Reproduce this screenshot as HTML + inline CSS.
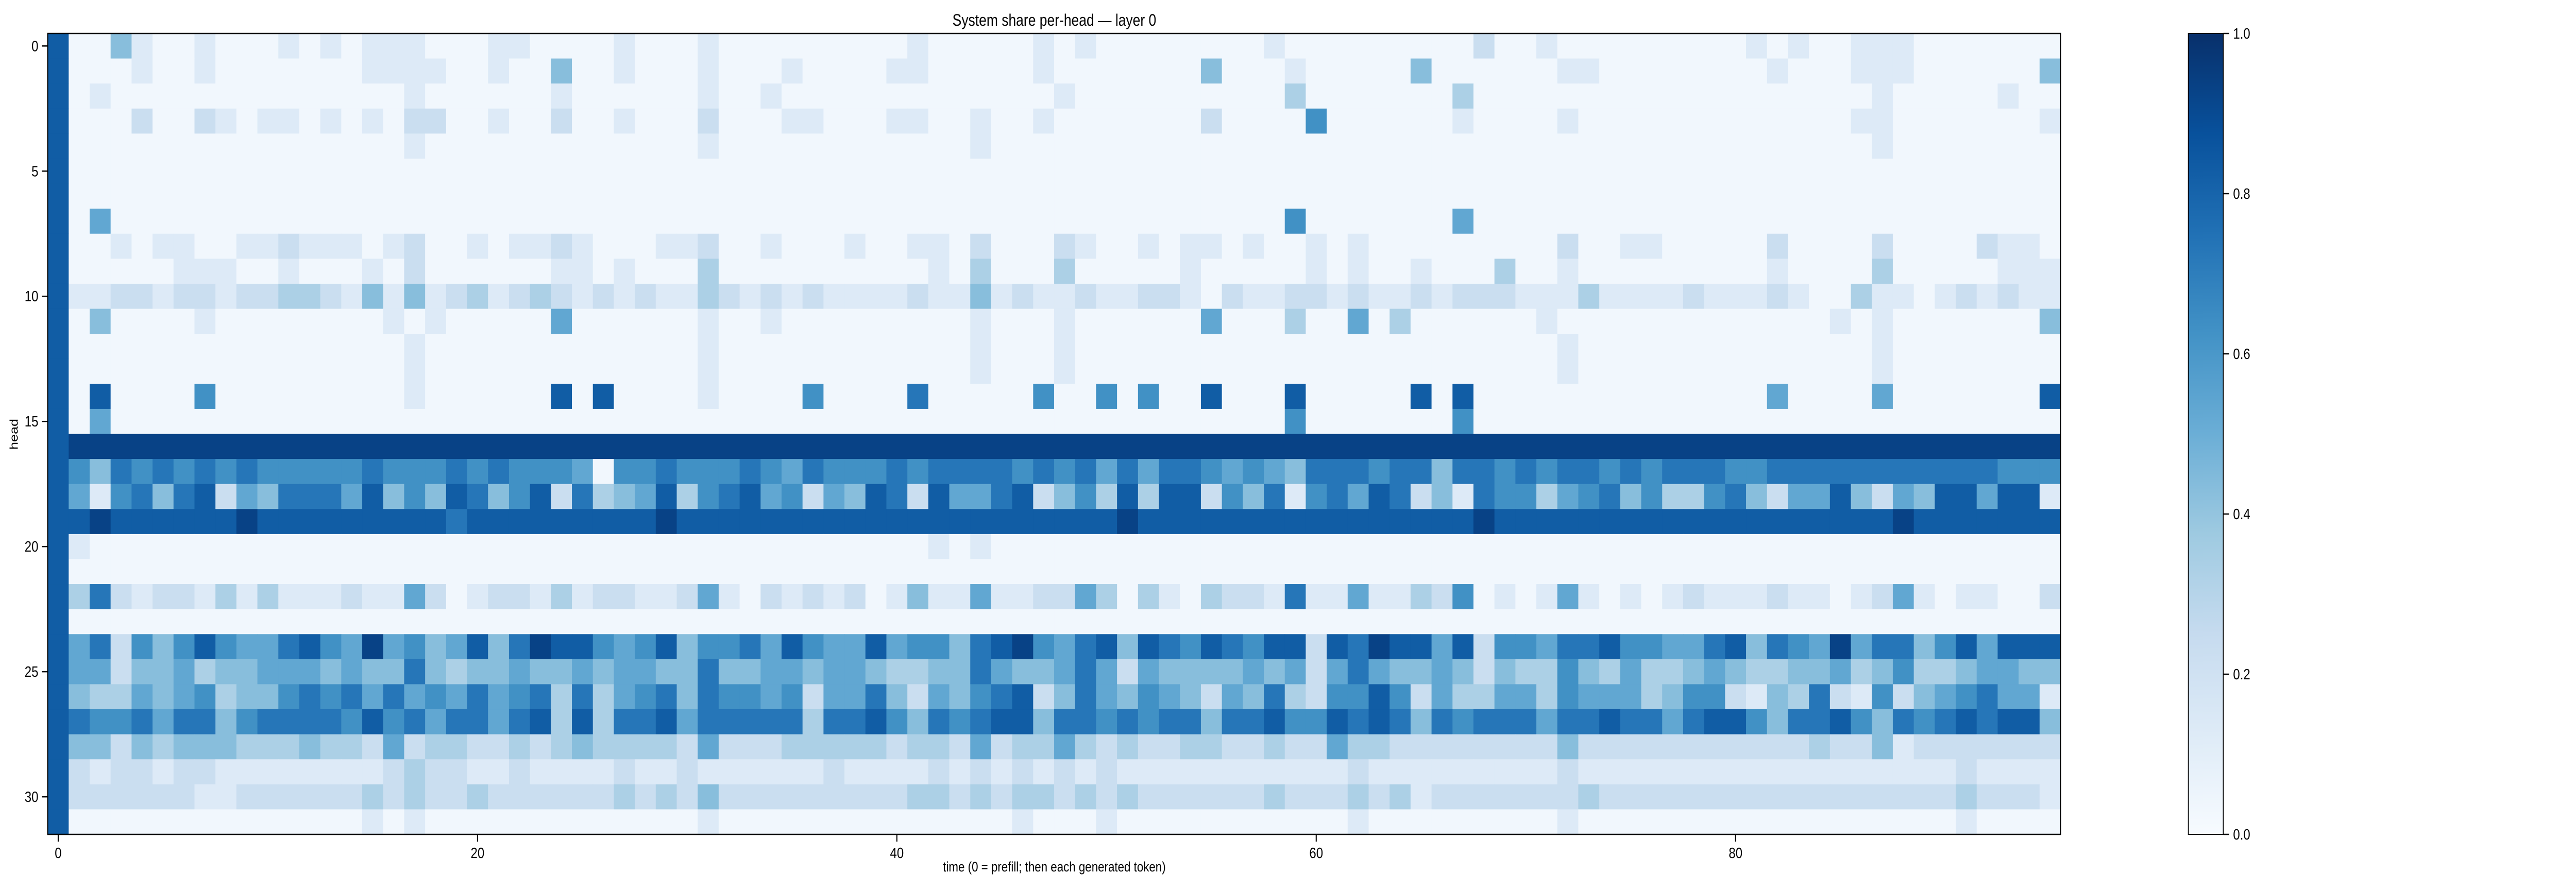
<!DOCTYPE html>
<html><head><meta charset="utf-8">
<style>
html,body{margin:0;padding:0;background:#fff;width:100vw;height:100vh;overflow:hidden;}
svg{display:block;position:absolute;left:0;top:0;width:100vw;height:100vh;font-family:"Liberation Sans","DejaVu Sans",sans-serif;}
</style></head>
<body>
<svg id="chart" viewBox="0 0 6047 1728" preserveAspectRatio="none" xmlns="http://www.w3.org/2000/svg">
<rect x="0" y="0" width="6047" height="1728" fill="#fff"/>
<text x="2475" y="50" font-size="32" text-anchor="middle" fill="#000">System share per-head — layer 0</text>
<g id="cells"></g>
<g id="axes"></g>
<text x="2475" y="1692" font-size="27" text-anchor="middle" fill="#000">time (0 = prefill; then each generated token)</text>
<text x="0" y="0" font-size="27" text-anchor="middle" fill="#000" transform="translate(42,843) rotate(-90)">head</text>
<defs>
<linearGradient id="blues" x1="0" y1="1" x2="0" y2="0">
<stop offset="0" stop-color="#f7fbff"/><stop offset="0.125" stop-color="#deebf7"/><stop offset="0.25" stop-color="#c6dbef"/><stop offset="0.375" stop-color="#9ecae1"/><stop offset="0.5" stop-color="#6baed6"/><stop offset="0.625" stop-color="#4292c6"/><stop offset="0.75" stop-color="#2171b5"/><stop offset="0.875" stop-color="#08519c"/><stop offset="1" stop-color="#08306b"/>
</linearGradient>
</defs>
<rect x="5137" y="65" width="82" height="1555" fill="url(#blues)" stroke="#000" stroke-width="2"/>
<g id="cbar"></g>
</svg>
<script>
// heat values per head row (digit d => (d+0.3)/10), columns = time steps 0..95
const heads = [
"8004100100"+"0101011100"+"0110000100"+"0100000000"+"0100000101"+"0000000010"+"0000000020"+"0100000000"+"0101001110"+"000000",
"8000100100"+"0000011110"+"0100400100"+"0100010000"+"1100000100"+"0000040001"+"0000040000"+"0011000000"+"0010001110"+"000004",
"8010000000"+"0000000100"+"0000100000"+"0100100000"+"0000000010"+"0000000003"+"0000000300"+"0000000000"+"0000000100"+"000100",
"8000200210"+"1101010220"+"0100200100"+"0200011000"+"1100100100"+"0000020000"+"6000000100"+"0010000000"+"0000001100"+"000001",
"8000000000"+"0000000100"+"0000000000"+"0100000000"+"0000100000"+"0000000000"+"0000000000"+"0000000000"+"0000000100"+"000000",
"8000000000"+"0000000000"+"0000000000"+"0000000000"+"0000000000"+"0000000000"+"0000000000"+"0000000000"+"0000000000"+"000000",
"8000000000"+"0000000000"+"0000000000"+"0000000000"+"0000000000"+"0000000000"+"0000000000"+"0000000000"+"0000000000"+"000000",
"8050000000"+"0000000000"+"0000000000"+"0000000000"+"0000000000"+"0000000006"+"0000000500"+"0000000000"+"0000000000"+"000000",
"8001011001"+"1211101200"+"1011210001"+"1200100010"+"0110200021"+"0010110100"+"1010000000"+"0020011000"+"0020000200"+"002110",
"8000001110"+"0100010200"+"0000110100"+"0300000000"+"0010300030"+"0000100000"+"1010010003"+"0010000000"+"0010000300"+"000111",
"8112212212"+"2332141412"+"3123212121"+"1321212111"+"1211412112"+"1122102112"+"2121121222"+"1113111121"+"1121003110"+"121211",
"8040000100"+"0000001010"+"0000500000"+"0100100000"+"0000100010"+"0000050003"+"0050300000"+"0100000000"+"0000010100"+"000004",
"8000000000"+"0000000100"+"0000000000"+"0100000000"+"0000100010"+"0000000000"+"0000000000"+"0010000000"+"0000000100"+"000000",
"8000000000"+"0000000100"+"0000000000"+"0100000000"+"0000100010"+"0000000000"+"0000000000"+"0010000000"+"0000000100"+"000000",
"8080000600"+"0000000100"+"0000808000"+"0100006000"+"0700000600"+"6060080008"+"0000080800"+"0000000000"+"0050000500"+"000008",
"8050000000"+"0000000000"+"0000000000"+"0000000000"+"0000000000"+"0000000006"+"0000000600"+"0000000000"+"0000000000"+"000000",
"8999999999"+"9999999999"+"9999999999"+"9999999999"+"9999999999"+"9999999999"+"9999999999"+"9999999999"+"9999999999"+"999999",
"8647676767"+"6666676667"+"6766650667"+"66"+"6765766676"+"7777676757"+"5776565477"+"76"+"7747767677"+"6767776677"+"7777777776"+"66",
"8516747825"+"4777584648"+"7468273458"+"36"+"7856254872"+"8557824638"+"3882647167"+"58"+"7241766356"+"7463367425"+"5842548858"+"81",
"8898888889"+"8888888887"+"8888888889"+"8888888888"+"8888888888"+"8988888888"+"8888888898"+"8888888888"+"8888888898"+"888888",
"8100000000"+"0000000000"+"0000000000"+"0000000000"+"0010100000"+"0000000000"+"0000000000"+"0000000000"+"0000000000"+"000000",
"8000000000"+"0000000000"+"0000000000"+"0000000000"+"0000000000"+"0000000000"+"0000000000"+"0000000000"+"0000000000"+"000000",
"8372122131"+"3111211520"+"1221312211"+"25"+"1021212014"+"1151122530"+"3103221711"+"51"+"1326010151"+"0101211121"+"1012510110"+"02",
"8000000000"+"0000000000"+"0000000000"+"0000000000"+"0000000000"+"0000000000"+"0000000000"+"0000000000"+"0000000000"+"000000",
"8572646865"+"5786595645"+"8479886568"+"46"+"6758655856"+"6478965784"+"8768768828"+"79"+"8858266577"+"8665578476"+"5957746858"+"88",
"8552445344"+"5554544743"+"4454454554"+"47"+"4455455433"+"4475445752"+"5444454525"+"75"+"4454243364"+"3533454334"+"4534633455"+"44",
"8433545634"+"4676757565"+"7567373567"+"47"+"6656255742"+"5467824754"+"6542547326"+"68"+"6253355365"+"5534662143"+"7216245675"+"51",
"8766757746"+"7777686757"+"7578383778"+"57"+"7777377864"+"7678847767"+"6774778668"+"78"+"7476777577"+"8775788647"+"7864767878"+"84",
"8442434443"+"3343325233"+"2232343333"+"25"+"2223333323"+"3252335323"+"2233223225"+"33"+"2222222242"+"2222222222"+"3224122222"+"22",
"8212212211"+"1111112322"+"1121111211"+"21"+"1111121111"+"2121212121"+"1111111111"+"21"+"1111111121"+"1111111111"+"1111111211"+"11",
"8222222112"+"2222232322"+"3222222323"+"24"+"2222222223"+"3232332323"+"2222223222"+"32"+"3122222223"+"2222222222"+"2222222322"+"21",
"8000000000"+"0000010100"+"0000000000"+"01"+"0000000000"+"0000100010"+"0000000000"+"10"+"0000000010"+"0000000000"+"0000000100"+"00"
];
const xTicks = [0,20,40,60,80];
const yTicks = [0,5,10,15,20,25,30];
const cbTicks = ["0.0","0.2","0.4","0.6","0.8","1.0"];

const NS="http://www.w3.org/2000/svg";
const L=112, T=65, W=4725, H=1555, NC=96, NR=32;
const cw=W/NC, rh=H/NR;
const xs = t => L + (t+0.5)*cw;
const ys = r => T + (r+0.5)*rh;
const stops=[[247,251,255],[222,235,247],[198,219,239],[158,202,225],[107,174,214],[66,146,198],[33,113,181],[8,81,156],[8,48,107]];
function blues(v){v=Math.max(0,Math.min(1,v));const p=v*8,i=Math.min(7,Math.floor(p)),f=p-i;const a=stops[i],b=stops[i+1];
return "rgb("+a.map((c,k)=>Math.round(c+(b[k]-c)*f)).join(",")+")";}
function mk(tag,attrs,parent){const e=document.createElementNS(NS,tag);for(const k in attrs)e.setAttribute(k,attrs[k]);parent.appendChild(e);return e;}
const cells=document.getElementById('cells');
heads.forEach((row,r)=>{
  for(let c=0;c<NC;c++){
    const d=parseInt(row[c]||"0",10);
    const v=(d+0.3)/10;
    const e=mk('rect',{x:(xs(c)-cw/2).toFixed(2),y:(ys(r)-rh/2).toFixed(2),width:(cw+0.6).toFixed(2),height:(rh+0.6).toFixed(2),fill:blues(v)},cells);
    
    
  }
});
const ax=document.getElementById('axes');
const frame=mk('rect',{x:L,y:T,width:W,height:H,fill:'none',stroke:'#000','stroke-width':2.5},ax);


xTicks.forEach(t=>{
  const x=xs(t);
  const tl=mk('line',{x1:x,y1:T+H,x2:x,y2:T+H+14,stroke:'#000','stroke-width':2.5},ax);
  
  
  const tx=mk('text',{x:x,y:T+H+46,'font-size':29,'text-anchor':'middle',fill:'#000'},ax);
  tx.textContent=t;
  
  
});
yTicks.forEach(r=>{
  const y=ys(r);
  const tl=mk('line',{x1:L-14,y1:y,x2:L,y2:y,stroke:'#000','stroke-width':2.5},ax);
  
  
  const tx=mk('text',{x:L-22,y:y+10,'font-size':29,'text-anchor':'end',fill:'#000'},ax);
  tx.textContent=r;
  
  
});
const cb=document.getElementById('cbar');
cbTicks.forEach(s=>{
  const v=parseFloat(s), y=T+H-v*H;
  const tl=mk('line',{x1:5219,y1:y,x2:5233,y2:y,stroke:'#000','stroke-width':2.5},cb);
  
  
  const tx=mk('text',{x:5242,y:y+10,'font-size':29,fill:'#000'},cb);
  tx.textContent=s;
  
  
});
</script>
</body></html>
